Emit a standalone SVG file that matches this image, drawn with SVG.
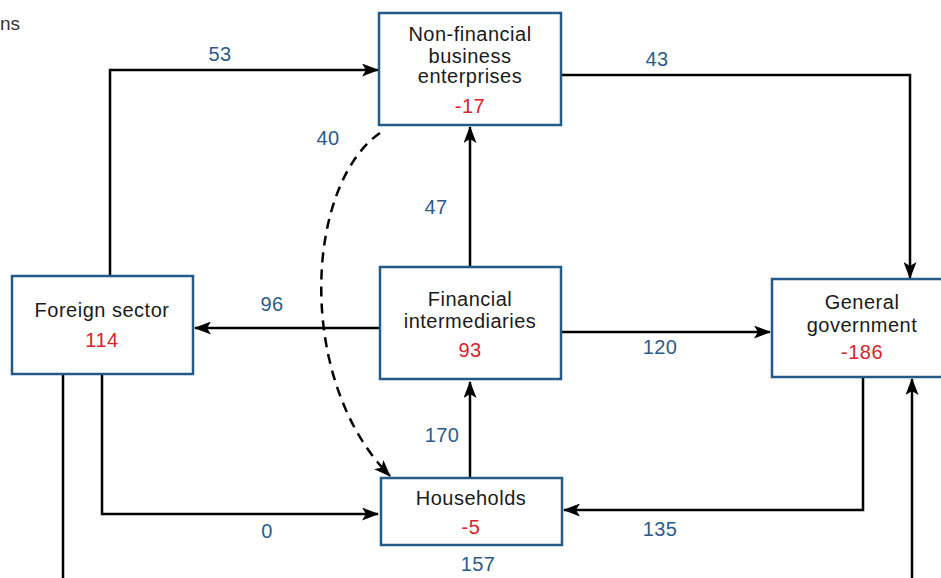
<svg xmlns="http://www.w3.org/2000/svg" width="941" height="578" viewBox="0 0 941 578">
<style>
.box{fill:#fff;stroke:#245a87;stroke-width:2.5}
.t{font-family:"Liberation Sans",Arial,sans-serif;font-size:20px;letter-spacing:0.5px;fill:#1a1a1a;text-anchor:middle}
.v{font-family:"Liberation Sans",Arial,sans-serif;font-size:20px;letter-spacing:0.5px;fill:#d8232a;text-anchor:middle}
.n{font-family:"Liberation Sans",Arial,sans-serif;font-size:20px;letter-spacing:0.4px;fill:#2b5b8a;text-anchor:middle}
.c{fill:none;stroke:#000;stroke-width:2.5}
.d{fill:none;stroke:#000;stroke-width:2.5;stroke-dasharray:10 7}
</style>
<defs>
<marker id="ah" viewBox="0 0 17 13" refX="16" refY="6.5" markerWidth="17" markerHeight="13" markerUnits="userSpaceOnUse" orient="auto">
<path d="M0,0 L17,6.5 L0,13 L4,6.5 z" fill="#000"/>
</marker>
</defs>
<rect width="941" height="578" fill="#fff"/>
<text x="0" y="30" style="font-family:'Liberation Sans',Arial,sans-serif;font-size:19px;fill:#333">ns</text>
<g id="connectors">
<path class="c" d="M110,276 V70 H378" marker-end="url(#ah)"/>
<path class="c" d="M561,75 H910 V278" marker-end="url(#ah)"/>
<path class="c" d="M470,267 V127" marker-end="url(#ah)"/>
<path class="c" d="M380,328 H195" marker-end="url(#ah)"/>
<path class="c" d="M561,332 H770" marker-end="url(#ah)"/>
<path class="c" d="M470,478 V382" marker-end="url(#ah)"/>
<path class="c" d="M102,374 V514 H378" marker-end="url(#ah)"/>
<path class="c" d="M863,377 V510 H564" marker-end="url(#ah)"/>
<path class="c" d="M63,374 V590 H912 V379" marker-end="url(#ah)"/>
<path class="d" d="M380,133 C305,185 295,380 390,476" marker-end="url(#ah)"/>
</g>
<g id="labels">
<text class="n" x="220" y="61">53</text>
<text class="n" x="657" y="66">43</text>
<text class="n" x="328" y="145">40</text>
<text class="n" x="436" y="214">47</text>
<text class="n" x="272" y="311">96</text>
<text class="n" x="660" y="354">120</text>
<text class="n" x="442" y="442">170</text>
<text class="n" x="267" y="538">0</text>
<text class="n" x="660" y="536">135</text>
<text class="n" x="478" y="571">157</text>
</g>
<g id="nonfinancial">
<rect class="box" x="379" y="13" width="182" height="112"/>
<text class="t" x="470" y="41">Non-financial</text>
<text class="t" x="470" y="63">business</text>
<text class="t" x="470" y="83">enterprises</text>
<text class="v" x="470" y="113">-17</text>
</g>
<g id="foreign">
<rect class="box" x="12" y="276" width="181" height="98"/>
<text class="t" x="102" y="317">Foreign sector</text>
<text class="v" x="102" y="347">114</text>
</g>
<g id="financial">
<rect class="box" x="380" y="267" width="181" height="112"/>
<text class="t" x="470" y="306">Financial</text>
<text class="t" x="470" y="328">intermediaries</text>
<text class="v" x="470" y="357">93</text>
</g>
<g id="government">
<rect class="box" x="772" y="279" width="180" height="98"/>
<text class="t" x="862" y="309">General</text>
<text class="t" x="862" y="332">government</text>
<text class="v" x="862" y="359">-186</text>
</g>
<g id="households">
<rect class="box" x="381" y="478" width="181" height="67"/>
<text class="t" x="471" y="505">Households</text>
<text class="v" x="471" y="534">-5</text>
</g>
</svg>
